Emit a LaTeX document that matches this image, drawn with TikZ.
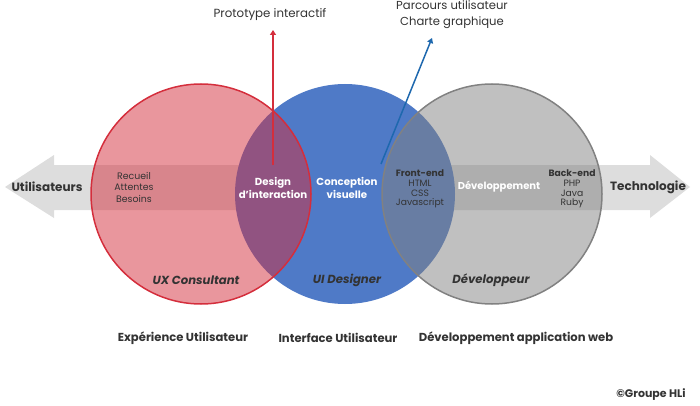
\documentclass[tikz,border=0pt]{standalone}
\usepackage{fontspec}
\setmainfont{Poppins}
\usetikzlibrary{arrows.meta}
\definecolor{uxred}{RGB}{212,46,60}
\definecolor{uiblue}{RGB}{79,122,199}
\definecolor{devgray}{RGB}{129,129,129}
\definecolor{bandgray}{RGB}{221,221,221}
\definecolor{txtgray}{RGB}{51,51,51}
\definecolor{arrowblue}{RGB}{30,104,174}
\tikzset{circ/.style = {shape = circle, minimum size = 220pt, inner sep = 0pt}}
\tikzset{lbl/.style = {text = txtgray, align = center, font = \fontsize{9.4}{11.5}\selectfont}}
\tikzset{wlbl/.style = {text = white, align = center, font = \bfseries\fontsize{10.2}{13}\selectfont}}
\tikzset{tech/.style = {text = txtgray, align = center, font = \fontsize{9.2}{9.8}\selectfont}}
\tikzset{role/.style = {text = txtgray, font = \bfseries\itshape\fontsize{11.7}{13}\selectfont}}
\tikzset{area/.style = {text = txtgray, font = \bfseries\fontsize{11.6}{13}\selectfont}}
\tikzset{edge/.style = {-{Triangle[length=5pt,width=6pt]}, line width = 1.5pt}}

\begin{document}
\begin{tikzpicture}[x=1pt, y=-1pt]
			\useasboundingbox (0,0) rectangle (700,406);

			\fill[bandgray] (5,187) -- (54,155) -- (54,165) -- (650,165) -- (650,155)
				-- (690,187) -- (650,218) -- (650,210) -- (54,210) -- (54,218) -- cycle;

			\node[circ, fill = uiblue] (ui) at (345,194) {};
			\node[circ, fill = uxred, fill opacity = 0.5, draw = uxred, line width = 1.5pt] (ux) at (201,194) {};
			\node[circ, fill = devgray, fill opacity = 0.5, draw = devgray, line width = 1.5pt] (dev) at (492,194) {};

			\node[text = txtgray, font = \bfseries\fontsize{12}{14}\selectfont] (users) at (47,187) {Utilisateurs};
			\node[text = txtgray, font = \bfseries\fontsize{12}{14}\selectfont] (techno) at (648,187) {Technologie};

			\node[lbl] (needs) at (134,187) {Recueil\\Attentes\\Besoins};
			\node[wlbl] (interact) at (273,188) {Design\\d'interaction};
			\node[wlbl] (visual) at (347,188) {Conception\\visuelle};
			\node[tech] (front) at (420,189) {\textbf{Front-end}\\HTML\\CSS\\Javascript};
			\node[wlbl, font = \bfseries\fontsize{10}{12}\selectfont] (devlabel) at (499,187) {Développement};
			\node[tech] (back) at (572,189) {\textbf{Back-end}\\PHP\\Java\\Ruby};

			\node[role] (uxrole) at (196,280) {UX Consultant};
			\node[role] (uirole) at (347,280) {UI Designer};
			\node[role] (devrole) at (491,280) {Développeur};

			\node[area] (uxarea) at (183,338) {Expérience Utilisateur};
			\node[area] (uiarea) at (338,338) {Interface Utilisateur};
			\node[area] (devarea) at (516,338) {Développement application web};

			\node[text = txtgray, font = \fontsize{11.8}{14}\selectfont] (proto) at (270,15) {Prototype interactif};
			\node[text = txtgray, align = center, font = \fontsize{11.6}{16}\selectfont] (journey) at (452,15) {Parcours utilisateur\\Charte graphique};
			\node[text = txtgray, font = \bfseries\fontsize{11}{13}\selectfont] (copy) at (651,395) {©Groupe HLi};

			\coordinate (protofoot) at (273,165);
			\coordinate (prototip) at (273,30);
			\coordinate (journeyfoot) at (381,164);
			\coordinate (journeytip) at (432,38);

			\draw[edge, uxred] (protofoot) to (prototip);
			\draw[edge, arrowblue] (journeyfoot) to (journeytip);
		\end{tikzpicture}
\end{document}
